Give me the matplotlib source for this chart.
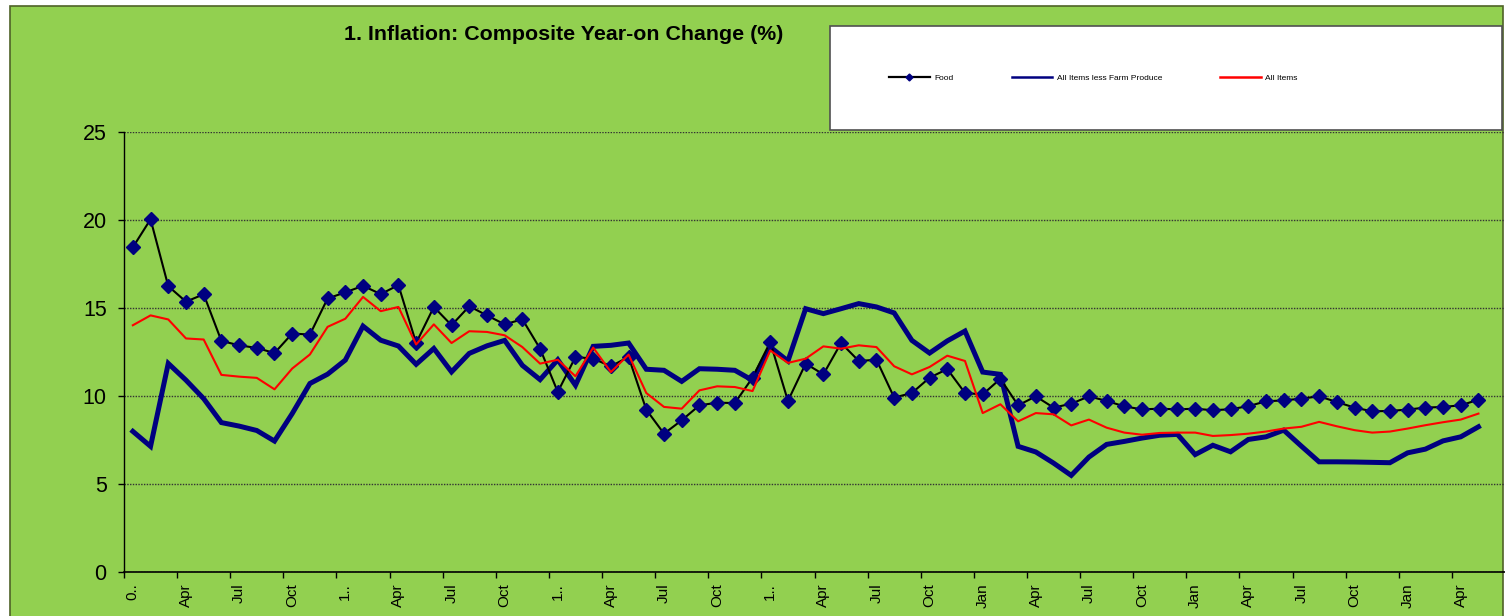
import matplotlib
matplotlib.use("Agg")
import matplotlib.pyplot as plt
from matplotlib.patches import Rectangle
from matplotlib.lines import Line2D

plt.rcParams['font.family'] = ['Liberation Sans', 'DejaVu Sans']

# monthly year-on change (%), one value per month
food = [18.45, 20.04, 16.24, 15.36, 15.78, 13.13, 12.88, 12.73, 12.44, 13.55,
        13.49, 15.54, 15.89, 16.26, 15.79, 16.30, 13.01, 15.06, 14.02, 15.10,
        14.58, 14.07, 14.36, 12.69, 10.23, 12.22, 12.12, 11.69, 12.22, 9.22,
        7.86, 8.62, 9.47, 9.62, 9.60, 11.04, 13.07, 9.72, 11.84, 11.23,
        13.01, 11.99, 12.06, 9.91, 10.17, 11.04, 11.53, 10.17, 10.09, 10.98,
        9.47, 9.98, 9.34, 9.56, 9.98, 9.72, 9.41, 9.24, 9.28, 9.24,
        9.28, 9.19, 9.25, 9.42, 9.70, 9.75, 9.85, 9.98, 9.66, 9.34,
        9.13, 9.15, 9.23, 9.34, 9.38, 9.47, 9.79]

less_farm = [7.99, 7.14, 11.85, 10.90, 9.85, 8.49, 8.29, 8.04, 7.44, 9.00,
             10.71, 11.24, 12.04, 13.97, 13.17, 12.84, 11.80, 12.70, 11.37, 12.42,
             12.85, 13.16, 11.74, 10.93, 12.06, 10.61, 12.82, 12.88, 13.01, 11.52,
             11.46, 10.83, 11.55, 11.52, 11.46, 10.89, 12.78, 11.99, 14.96, 14.68,
             14.96, 15.25, 15.06, 14.72, 13.16, 12.44, 13.13, 13.69, 11.36, 11.23,
             7.14, 6.82, 6.19, 5.49, 6.53, 7.25, 7.42, 7.61, 7.77, 7.82,
             6.67, 7.20, 6.83, 7.53, 7.68, 8.06, 7.15, 6.26, 6.26, 6.25,
             6.23, 6.21, 6.77, 6.98, 7.45, 7.68, 8.25]

all_items = [14.02, 14.58, 14.35, 13.27, 13.21, 11.20, 11.10, 11.03, 10.38, 11.56,
             12.36, 13.93, 14.39, 15.63, 14.82, 15.06, 12.93, 14.07, 13.01, 13.68,
             13.64, 13.45, 12.78, 11.84, 12.06, 11.12, 12.75, 11.36, 12.35, 10.17,
             9.38, 9.28, 10.32, 10.55, 10.51, 10.28, 12.59, 11.88, 12.12, 12.82,
             12.69, 12.88, 12.78, 11.69, 11.23, 11.65, 12.29, 11.99, 9.03, 9.53,
             8.56, 9.03, 8.96, 8.33, 8.66, 8.20, 7.92, 7.80, 7.90, 7.92,
             7.92, 7.73, 7.78, 7.86, 7.98, 8.15, 8.25, 8.53, 8.28, 8.06,
             7.92, 7.98, 8.15, 8.34, 8.51, 8.66, 9.00]

# one label every third month
tick_labels = ['0..', 'Apr', 'Jul', 'Oct', '1..', 'Apr', 'Jul', 'Oct',
               '1..', 'Apr', 'Jul', 'Oct', '1..', 'Apr', 'Jul', 'Oct',
               'Jan', 'Apr', 'Jul', 'Oct', 'Jan', 'Apr', 'Jul', 'Oct',
               'Jan', 'Apr']

n_cats = 78  # the axis keeps one empty month at the end
green = '#92D050'
navy = '#000080'

fig = plt.figure(figsize=(15.05, 6.16), dpi=100, facecolor='white')

# chart area with its dark green border
fig.patches.append(Rectangle((10 / 1505, -0.02), 1493 / 1505, 1.02 - 6 / 616,
                             transform=fig.transFigure, facecolor=green,
                             edgecolor='#4F6228', linewidth=1.2, zorder=-5))

ax = fig.add_axes([124 / 1505, 44 / 616, 1381 / 1505, 440 / 616])
ax.set_facecolor(green)
ax.patch.set_alpha(0)

x = list(range(len(food)))
ax.plot(x, less_farm, color=navy, linewidth=3.6, zorder=3, solid_joinstyle='miter')
ax.plot(x, food, color='black', linewidth=1.5, marker='D', markersize=6.8,
        markerfacecolor=navy, markeredgecolor=navy, zorder=4)
ax.plot(x, all_items, color='#FF0000', linewidth=1.5, zorder=5)

ax.set_xlim(-0.5, n_cats - 0.5)
ax.set_ylim(0, 25)

ax.set_yticks([0, 5, 10, 15, 20, 25])
ax.tick_params(axis='y', labelsize=15.5, length=4.5, width=1, pad=8, direction='out')
ax.yaxis.grid(True, linestyle=(0, (1, 1)), color='#333333', linewidth=1)
ax.set_axisbelow(True)

# major ticks between months, labels at month centres
ax.set_xticks([i - 0.5 for i in range(0, n_cats, 3)])
ax.set_xticklabels([])
ax.set_xticks(list(range(0, n_cats - 1, 3)), minor=True)
ax.set_xticklabels(tick_labels, minor=True, rotation=90, fontsize=11)
ax.tick_params(axis='x', which='major', length=4, width=1, direction='out')
ax.tick_params(axis='x', which='minor', length=0, pad=8)

for side in ['top', 'right']:
    ax.spines[side].set_visible(False)
ax.spines['left'].set_linewidth(1)
ax.spines['bottom'].set_linewidth(1.2)

fig.text(564 / 1505, 1 - 35 / 616, '1. Inflation: Composite Year-on Change (%)',
         ha='center', va='center', fontsize=15.4, fontweight='bold')

# legend box
fig.patches.append(Rectangle((830 / 1505, 1 - 130 / 616), 672 / 1505, 104 / 616,
                             transform=fig.transFigure, facecolor='white',
                             edgecolor='#505050', linewidth=1.2, zorder=1))
handles = [Line2D([], [], color='black', linewidth=1.6, marker='D', markersize=3.5,
                  markerfacecolor=navy, markeredgecolor=navy),
           Line2D([], [], color=navy, linewidth=1.8),
           Line2D([], [], color='#FF0000', linewidth=1.8)]
fig.legend(handles, ['Food', 'All Items less Farm Produce', 'All Items'],
           loc='center left', bbox_to_anchor=(889 / 1505, 1 - 78 / 616),
           ncol=3, frameon=False, fontsize=6, handlelength=4.9,
           handletextpad=0.5, columnspacing=7, borderpad=0, borderaxespad=0)

fig.savefig('out.png', dpi=100, facecolor=fig.get_facecolor())
